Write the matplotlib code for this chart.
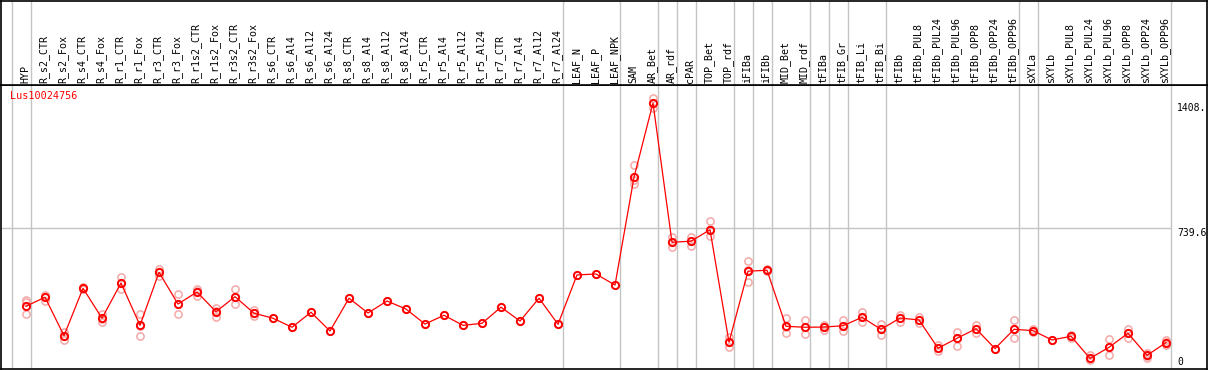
import matplotlib
matplotlib.use("Agg")
import matplotlib.pyplot as plt

# ------------------------------------------ Data ------------------------------------------ #

gene_name = "Lus10024756"

tissues = [
    "HYP", "R_s2_CTR", "R_s2_Fox", "R_s4_CTR", "R_s4_Fox", "R_r1_CTR", "R_r1_Fox",
    "R_r3_CTR", "R_r3_Fox", "R_r1s2_CTR", "R_r1s2_Fox", "R_r3s2_CTR", "R_r3s2_Fox",
    "R_s6_CTR", "R_s6_Al4", "R_s6_Al12", "R_s6_Al24", "R_s8_CTR", "R_s8_Al4",
    "R_s8_Al12", "R_s8_Al24", "R_r5_CTR", "R_r5_Al4", "R_r5_Al12", "R_r5_Al24",
    "R_r7_CTR", "R_r7_Al4", "R_r7_Al12", "R_r7_Al24", "LEAF_N", "LEAF_P", "LEAF_NPK",
    "SAM", "AR_Bet", "AR_rdf", "cPAR", "TOP_Bet", "TOP_rdf", "iFIBa", "iFIBb",
    "MID_Bet", "MID_rdf", "tFIBa", "tFIB_Gr", "tFIB_Li", "tFIB_Bi", "tFIBb",
    "tFIBb_PUL8", "tFIBb_PUL24", "tFIBb_PUL96", "tFIBb_OPP8", "tFIBb_OPP24", "tFIBb_OPP96",
    "sXYLa", "sXYLb", "sXYLb_PUL8", "sXYLb_PUL24", "sXYLb_PUL96", "sXYLb_OPP8",
    "sXYLb_OPP24", "sXYLb_OPP96",
]

mean_expr = [
    324, 372, 167, 420, 260, 448, 222, 505, 336, 400, 295, 375, 287,
    260, 212, 292, 192, 367, 288, 352, 309, 229, 276, 222, 233,
    319, 245, 367, 228, 491, 496, 437,
    1012, 1408, 665, 671, 732, 132, 511, 516,
    217, 212, 213, 220, 265, 201, 261,
    251, 100, 153, 204, 98, 201,
    194, 144, 164, 46, 105, 180, 62, 130,
]

# replicate values (light circles)
replicates = [
    [357, 347, 283], [384, 373, 352], [188, 165, 144], [427, 416, 416],
    [283, 256, 240], [480, 448, 414], [281, 219, 167], [521, 507, 487],
    [388, 336, 281], [416, 405, 379], [313, 299, 265], [414, 373, 338],
    [304, 288, 272],
    [260], [212], [292], [192], [367], [288], [352], [309], [229], [276],
    [222], [233], [319], [245], [367], [228], [491], [496], [437],
    [1076, 998, 976], [1433, 1408, 1382], [692, 667, 642], [695, 672, 647],
    [777, 736, 697], [158, 133, 105], [564, 517, 452], [523, 516, 512],
    [260, 213, 180], [251, 213, 174], [224, 213, 197], [251, 219, 194],
    [293, 267, 242], [229, 203, 171], [277, 261, 238],
    [265, 251, 233], [117, 101, 87], [188, 155, 114], [226, 203, 183],
    [98], [251, 203, 153],
    [203, 192, 187], [144], [171, 163, 155], [64, 48, 37], [149, 107, 62],
    [203, 181, 153], [73, 61, 46], [144, 131, 117],
]

# index of the last tissue in each group (-1 = left edge line)
group_ends = [-1, 0, 28, 31, 33, 34, 35, 37, 38, 39, 41, 42, 43, 45, 52, 53, 60]

y_max = 1408
y_mid = 739.6

# ------------------------------------------ Painting ------------------------------------------ #

W, H = 1209, 370
fig = plt.figure(figsize=(W / 100, H / 100), dpi=100)
fig.patch.set_facecolor("white")


def px_axes(x0, y0, x1, y1, **kw):
    """axes placed by pixel box (top-left origin)"""
    return fig.add_axes([x0 / W, 1 - y1 / H, (x1 - x0) / W, (y1 - y0) / H], **kw)


ax = px_axes(1, 85, 1207, 369)
ax_head = px_axes(1, 1, 1207, 85, sharex=ax)

# x: column i sits at pixel 26 + 19 * i
ax.set_xlim((1 - 26) / 19, (1207 - 26) / 19)
# y: zero at pixel 367, y_max at pixel 103
scale = (367 - 103) / y_max
ax.set_ylim(-(369 - 367) / scale, (367 - 85) / scale)
ax_head.set_ylim(0, 1)

for a in (ax, ax_head):
    a.set_xticks([])
    a.set_yticks([])
    for sp in a.spines.values():
        sp.set_color("black")
        sp.set_linewidth(1.2)
    for g in group_ends:
        a.axvline(g + 0.26, color="#c4c4c4", lw=1.0, zorder=0)

ax.hlines(y_mid, ax.get_xlim()[0], group_ends[-1] + 0.26, color="#c4c4c4", lw=1.0, zorder=0)

x = list(range(len(tissues)))

for i, reps in enumerate(replicates):
    ax.plot([i] * len(reps), reps, linestyle="none", marker="o", markersize=5.2,
            markerfacecolor="none", markeredgecolor="#f4a8a8", markeredgewidth=1.1, zorder=2)

ax.plot(x, mean_expr, color="red", lw=0.9, zorder=3)
ax.plot(x, mean_expr, linestyle="none", marker="o", markersize=5.2,
        markerfacecolor="none", markeredgecolor="red", markeredgewidth=1.4, zorder=4)

mono = "DejaVu Sans Mono"
for i, name in enumerate(tissues):
    ax_head.text(i - 0.05, 0.02, name, rotation=90, ha="center", va="bottom",
                 fontsize=7.2, family=mono, color="black")

ax.text(9 / 1206, 1 - 6 / 284, gene_name, transform=ax.transAxes, ha="left", va="top",
        fontsize=7.3, family=mono, color="red")

x_lab = (1177 - 1) / 1206
ax.text(x_lab, y_max, "1408.", transform=ax.get_yaxis_transform(), ha="left", va="top",
        fontsize=7, family=mono)
ax.text(x_lab, y_mid, "739.6", transform=ax.get_yaxis_transform(), ha="left", va="top",
        fontsize=7, family=mono)
ax.text(x_lab, 0, "0", transform=ax.get_yaxis_transform(), ha="left", va="bottom",
        fontsize=7, family=mono)

fig.savefig("out.png", dpi=100, facecolor="white")
